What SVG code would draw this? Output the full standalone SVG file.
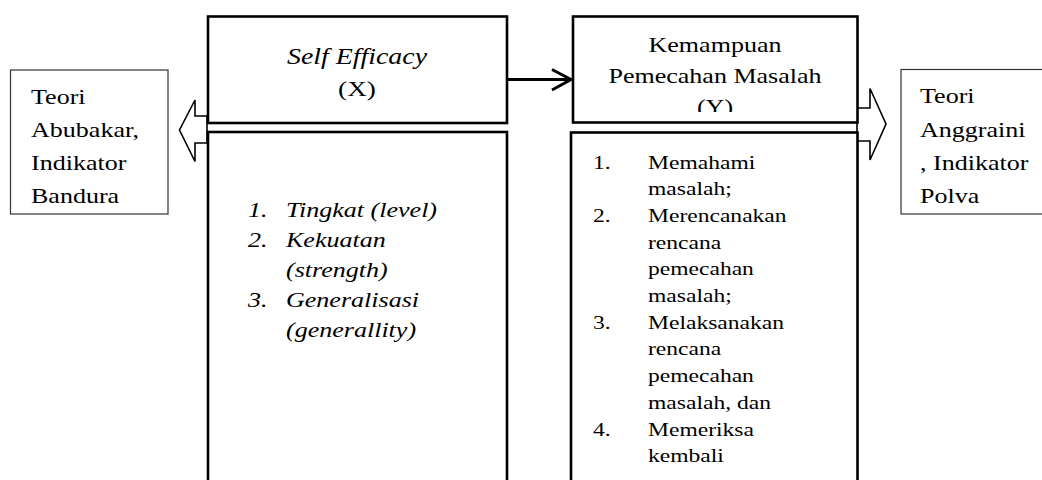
<svg xmlns="http://www.w3.org/2000/svg" width="1042" height="480" viewBox="0 0 1042 480">
<defs>
<style>
text{font-family:'Liberation Serif','DejaVu Serif',serif;fill:#000}
.i{font-style:italic}
.main{fill:#fff;stroke:#000;stroke-width:2.6}
.side{fill:#fff;stroke:#333;stroke-width:1.2}
.hollow{fill:#fff;stroke:#000;stroke-width:1.6;stroke-linejoin:miter}
.conn{fill:none;stroke:#000;stroke-width:3}
</style>
<clipPath id="clipY"><rect x="573" y="16" width="285" height="96"/></clipPath>
</defs>
<rect width="1042" height="480" fill="#fff"/>

<g id="connectors">
<path class="hollow" d="M207,116 L195,116 L195,100 L179.5,130 L195,161.5 L195,143 L207,143 Z"/>
<path class="hollow" d="M857,108 L870,108 L870,88.5 L886,124 L870,160 L870,141 L857,141 Z"/>
<line class="conn" x1="507" y1="79.5" x2="571" y2="79.5"/>
<polyline class="conn" points="552,69.5 571,79.5 552,90"/>
</g>

<g id="teori-abubakar" font-family="Liberation Serif, serif" font-size="21">
<rect class="side" x="10.5" y="70" width="157.5" height="144"/>
<text transform="translate(31,104) scale(1.24,1)">Teori</text>
<text transform="translate(31,137) scale(1.24,1)">Abubakar,</text>
<text transform="translate(31,170) scale(1.24,1)">Indikator</text>
<text transform="translate(31,203) scale(1.24,1)">Bandura</text>
</g>

<g id="self-efficacy" font-family="Liberation Serif, serif">
<rect class="main" x="208" y="16.5" width="299" height="106.5"/>
<text class="i" font-size="22.5" text-anchor="middle" transform="translate(357,64) scale(1.24,1)">Self Efficacy</text>
<text font-size="22" text-anchor="middle" transform="translate(357,96) scale(1.24,1)">(X)</text>
</g>

<g id="self-efficacy-indicators" font-family="Liberation Serif, serif" font-size="21">
<rect class="main" x="208" y="132" width="299" height="360"/>
<text class="i" transform="translate(248,217) scale(1.24,1)">1.</text>
<text class="i" transform="translate(286,217) scale(1.24,1)">Tingkat (level)</text>
<text class="i" transform="translate(248,247) scale(1.24,1)">2.</text>
<text class="i" transform="translate(286,247) scale(1.24,1)">Kekuatan</text>
<text class="i" transform="translate(286,277) scale(1.24,1)">(strength)</text>
<text class="i" transform="translate(248,307) scale(1.24,1)">3.</text>
<text class="i" transform="translate(286,307) scale(1.24,1)">Generalisasi</text>
<text class="i" transform="translate(286,337) scale(1.24,1)">(generallity)</text>
</g>

<g id="kemampuan" font-family="Liberation Serif, serif" font-size="21">
<rect class="main" x="573" y="16.5" width="284.5" height="106"/>
<g clip-path="url(#clipY)">
<text text-anchor="middle" transform="translate(715,52) scale(1.24,1)">Kemampuan</text>
<text text-anchor="middle" transform="translate(715,83) scale(1.24,1)">Pemecahan Masalah</text>
<text text-anchor="middle" transform="translate(715,114) scale(1.24,1)">(Y)</text>
</g>
</g>

<g id="kemampuan-indicators" font-family="Liberation Serif, serif" font-size="19">
<rect class="main" x="571" y="132.5" width="286.5" height="360"/>
<text transform="translate(593,168.5) scale(1.24,1)">1.</text>
<text transform="translate(648,168.5) scale(1.24,1)">Memahami</text>
<text transform="translate(648,195.2) scale(1.24,1)">masalah;</text>
<text transform="translate(593,221.9) scale(1.24,1)">2.</text>
<text transform="translate(648,221.9) scale(1.24,1)">Merencanakan</text>
<text transform="translate(648,248.6) scale(1.24,1)">rencana</text>
<text transform="translate(648,275.3) scale(1.24,1)">pemecahan</text>
<text transform="translate(648,302) scale(1.24,1)">masalah;</text>
<text transform="translate(593,328.7) scale(1.24,1)">3.</text>
<text transform="translate(648,328.7) scale(1.24,1)">Melaksanakan</text>
<text transform="translate(648,355.4) scale(1.24,1)">rencana</text>
<text transform="translate(648,382.1) scale(1.24,1)">pemecahan</text>
<text transform="translate(648,408.8) scale(1.24,1)">masalah, dan</text>
<text transform="translate(593,435.5) scale(1.24,1)">4.</text>
<text transform="translate(648,435.5) scale(1.24,1)">Memeriksa</text>
<text transform="translate(648,462.2) scale(1.24,1)">kembali</text>
</g>

<g id="teori-anggraini" font-family="Liberation Serif, serif" font-size="21">
<rect class="side" x="901" y="69.5" width="150" height="144.5"/>
<text transform="translate(920,103) scale(1.24,1)">Teori</text>
<text transform="translate(920,137) scale(1.24,1)">Anggraini</text>
<text transform="translate(920,170) scale(1.24,1)">, Indikator</text>
<text transform="translate(920,203) scale(1.24,1)">Polva</text>
</g>
</svg>
